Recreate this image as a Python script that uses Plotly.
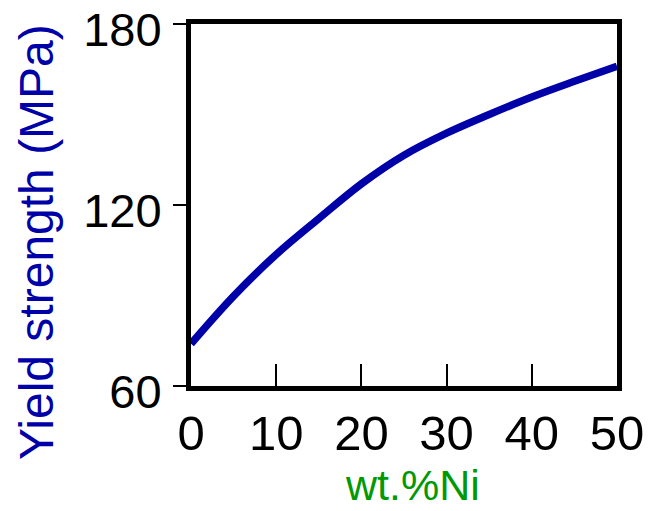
import plotly.graph_objects as go

ni_wt = [0, 5, 10, 15, 20, 25, 30, 35, 40, 45, 50]
yield_mpa = [74, 89.8, 103.6, 115.5, 127, 136.5, 143.8, 150, 155.8, 161, 166]
x_ticks = [0, 10, 20, 30, 40, 50]
y_ticks = [60, 120, 180]

fig = go.Figure()
fig.add_trace(go.Scatter(
    x=ni_wt, y=yield_mpa, mode="lines",
    line=dict(color="#0000A8", width=7.5, shape="spline", smoothing=1.0),
    showlegend=False, cliponaxis=True,
))

font = "Liberation Sans, Arial, sans-serif"
fig.update_layout(
    width=654, height=511,
    margin=dict(l=183, r=45, t=16, b=133),
    paper_bgcolor="white", plot_bgcolor="white",
    font=dict(family=font, color="black"),
)
fig.update_xaxes(
    range=[0, 50], tickvals=x_ticks, ticks="inside", ticklen=22, tickwidth=2,
    tickcolor="black", showline=True, linewidth=5, linecolor="black", mirror=True,
    showgrid=False, zeroline=False, tickfont=dict(size=49, family=font),
    ticklabeloverflow="allow", automargin=False,
)
fig.update_yaxes(
    range=[60, 180], tickvals=y_ticks, ticks="outside", ticklen=13, tickwidth=2,
    tickcolor="black", showline=True, linewidth=5, linecolor="black", mirror=True,
    showgrid=False, zeroline=False, tickfont=dict(size=47, family=font),
    ticklabeloverflow="allow", ticklabelstandoff=2, ticklabelshift=6,
    automargin=False,
)
fig.add_annotation(
    text="Yield strength (MPa)", xref="paper", yref="paper",
    x=-0.3615, y=0.398, xanchor="center", yanchor="middle", textangle=-90,
    showarrow=False, borderpad=0,
    font=dict(size=48, color="#0000A8", family=font),
)
fig.add_annotation(
    text="wt.%Ni", xref="paper", yref="paper",
    x=0.519, y=-0.2735, xanchor="center", yanchor="middle",
    showarrow=False, borderpad=0,
    font=dict(size=43, color="#009900", family=font),
)
fig.write_html("out.html")
